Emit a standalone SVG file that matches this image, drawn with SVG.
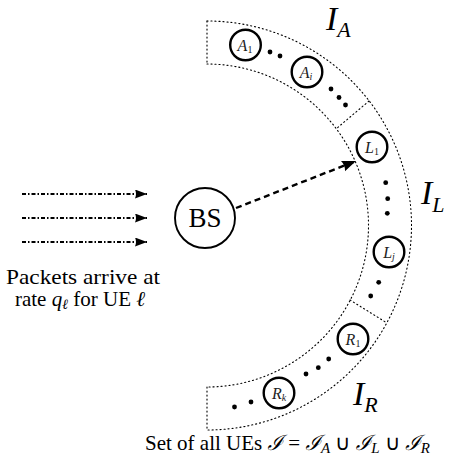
<svg xmlns="http://www.w3.org/2000/svg" width="457" height="465" viewBox="0 0 457 465">
<style>
  .band{fill:none;stroke:#000;stroke-width:1.1;stroke-dasharray:1.1 2.9;stroke-linecap:round}
  .ue{fill:#fff;stroke:#000;stroke-width:2.4}
  .bs{fill:#fff;stroke:#000;stroke-width:1.9}
  .dot{fill:#000}
  .ul{fill:#222;font-size:16px;text-anchor:middle}
  .pk{fill:none;stroke:#000;stroke-width:2;stroke-dasharray:4 2 1.5 2}
  .tx{fill:none;stroke:#000;stroke-width:2.4;stroke-dasharray:6 4}
</style>
<defs>
  <marker id="ah" markerUnits="userSpaceOnUse" markerWidth="14" markerHeight="10" refX="12" refY="4.5" orient="auto">
    <path d="M0,0 L12,4.5 L0,9 Q2,4.5 0,0 z" fill="#000"/>
  </marker>
  <marker id="ah2" markerUnits="userSpaceOnUse" markerWidth="16" markerHeight="12" refX="14" refY="5.5" orient="auto">
    <path d="M0,0 L14,5.5 L0,11 Q2.5,5.5 0,0 z" fill="#000"/>
  </marker>
</defs>

<g id="region-band">
  <path class="band" d="M207,21 A204.5,204.5 0 0 1 207,430"/>
  <path class="band" d="M207,64 A161.5,161.5 0 0 1 207,387"/>
  <path class="band" d="M207,21 L207,64"/>
  <path class="band" d="M207,387 L207,430"/>
  <path class="band" d="M369,101 L336,129"/>
  <path class="band" d="M350,300 L387,323"/>
</g>

<g id="connectors">
  <path class="pk" d="M22,194 L147,194" marker-end="url(#ah)"/>
  <path class="pk" d="M22,218 L147,218" marker-end="url(#ah)"/>
  <path class="pk" d="M22,242 L147,242" marker-end="url(#ah)"/>
  <path class="tx" d="M236,208 L356,161" marker-end="url(#ah2)"/>
</g>

<g id="dots">
  <circle class="dot" cx="270" cy="52" r="2.4"/>
  <circle class="dot" cx="280" cy="56" r="2.4"/>
  <circle class="dot" cx="331" cy="89" r="2.4"/>
  <circle class="dot" cx="339" cy="97.5" r="2.4"/>
  <circle class="dot" cx="345.5" cy="105" r="2.4"/>
  <circle class="dot" cx="385.7" cy="182.7" r="2.4"/>
  <circle class="dot" cx="387.7" cy="198.7" r="2.4"/>
  <circle class="dot" cx="387.3" cy="213.3" r="2.4"/>
  <circle class="dot" cx="378.7" cy="282.3" r="2.4"/>
  <circle class="dot" cx="370.7" cy="296" r="2.4"/>
  <circle class="dot" cx="328.7" cy="359" r="2.4"/>
  <circle class="dot" cx="318.3" cy="367.7" r="2.4"/>
  <circle class="dot" cx="306" cy="374" r="2.4"/>
  <circle class="dot" cx="251" cy="402" r="2.4"/>
  <circle class="dot" cx="234.5" cy="407" r="2.4"/>
</g>

<g id="BS">
  <circle class="bs" cx="205" cy="218" r="30"/>
  <text x="205" y="227" font-size="27" text-anchor="middle" font-family="Liberation Serif, serif">BS</text>
</g>

<g id="A1">
  <circle class="ue" cx="245.5" cy="45" r="15.3"/>
  <text class="ul" x="245" y="51" font-family="Liberation Serif, serif"><tspan font-style="italic">A</tspan><tspan font-size="10" dy="2">1</tspan></text>
</g>
<g id="Ai">
  <circle class="ue" cx="307" cy="72" r="15.3"/>
  <text class="ul" x="306" y="78" font-family="Liberation Serif, serif"><tspan font-style="italic">A</tspan><tspan font-style="italic" font-size="10" dy="2">i</tspan></text>
</g>
<g id="L1">
  <circle class="ue" cx="372" cy="147" r="15.3"/>
  <text class="ul" x="372" y="153" font-family="Liberation Serif, serif"><tspan font-style="italic">L</tspan><tspan font-size="10" dy="2">1</tspan></text>
</g>
<g id="Lj">
  <circle class="ue" cx="389" cy="252" r="15.3"/>
  <text class="ul" x="389" y="258" font-family="Liberation Serif, serif"><tspan font-style="italic">L</tspan><tspan font-style="italic" font-size="10" dy="2">j</tspan></text>
</g>
<g id="R1">
  <circle class="ue" cx="353" cy="339" r="15.3"/>
  <text class="ul" x="353" y="345" font-family="Liberation Serif, serif"><tspan font-style="italic">R</tspan><tspan font-size="10" dy="2">1</tspan></text>
</g>
<g id="Rk">
  <circle class="ue" cx="279" cy="393" r="15.3"/>
  <text class="ul" x="279" y="399" font-family="Liberation Serif, serif"><tspan font-style="italic">R</tspan><tspan font-style="italic" font-size="10" dy="2">k</tspan></text>
</g>

<g id="labels">
  <text x="326" y="30" font-size="34" font-style="italic" font-family="Liberation Serif, serif">I<tspan font-size="22" dy="7">A</tspan></text>
  <text x="421" y="204" font-size="34" font-style="italic" font-family="Liberation Serif, serif">I<tspan font-size="22" dy="8">L</tspan></text>
  <text x="353" y="405" font-size="34" font-style="italic" font-family="Liberation Serif, serif">I<tspan font-size="22" dy="7">R</tspan></text>
  <text x="83" y="284" font-size="22" text-anchor="middle" font-family="Liberation Serif, serif" textLength="154" lengthAdjust="spacingAndGlyphs">Packets arrive at</text>
  <text x="80" y="306" font-size="21" text-anchor="middle" font-family="Liberation Serif, serif">rate <tspan font-style="italic">q</tspan><tspan font-size="14" font-style="italic" dy="3">ℓ</tspan><tspan dy="-3"> for UE </tspan><tspan font-style="italic">ℓ</tspan></text>
  <text x="145" y="450" font-size="21" font-family="Liberation Serif, serif">Set of all UEs <tspan font-family="serif" font-style="italic">ℐ</tspan> = <tspan font-family="serif" font-style="italic">ℐ</tspan><tspan font-style="italic" font-size="15" dy="3">A</tspan><tspan dy="-3"> ∪ </tspan><tspan font-family="serif" font-style="italic">ℐ</tspan><tspan font-style="italic" font-size="15" dy="3">L</tspan><tspan dy="-3"> ∪ </tspan><tspan font-family="serif" font-style="italic">ℐ</tspan><tspan font-style="italic" font-size="15" dy="3">R</tspan></text>
</g>
</svg>
